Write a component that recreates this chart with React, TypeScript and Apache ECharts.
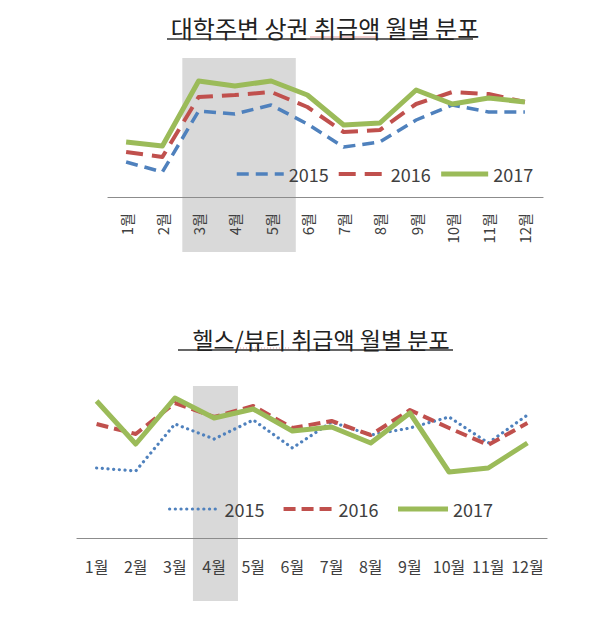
import React, { useEffect, useRef } from "react";
import * as echarts from "echarts";

const months = ["1월", "2월", "3월", "4월", "5월", "6월", "7월", "8월", "9월", "10월", "11월", "12월"];
const years = ["2015", "2016", "2017"];

// 대학주변 상권 취급액 (상대 지수)
const campus2015 = [35, 25, 86, 83, 92, 73, 50, 55, 77, 92, 85, 85];
const campus2016 = [45, 40, 100, 102, 105, 90, 65, 67, 93, 105, 103, 95];
const campus2017 = [55, 51, 116, 111, 116, 102, 72, 74, 107, 93, 99, 95];

// 헬스/뷰티 취급액 (상대 지수)
const beauty2015 = [70, 67, 114, 99, 118, 90, 116, 103, 110, 121, 95, 123];
const beauty2016 = [114, 104, 135, 121, 132, 110, 117, 103, 128, 110, 93, 115];
const beauty2017 = [137, 94, 140, 120, 129, 107, 111, 95, 125, 66, 70, 95];

// highlighted month ranges (category indices)
const campusHighlight = [2, 4];
const beautyHighlight = [3, 3];

const titles = ["대학주변 상권 취급액 월별 분포", "헬스/뷰티 취급액 월별 분포"];

const FONT = "'Noto Sans CJK KR', 'Noto Sans', sans-serif";
const BLUE = "#4F81BD";
const RED = "#C0504D";
const GREEN = "#9BBB59";
const TEXT = "#404040";

function bandSeries(gridIdx: number, range: number[], leftF: number, rightF: number, topPad: number, extra: number) {
  return {
    type: "custom",
    xAxisIndex: gridIdx,
    yAxisIndex: gridIdx,
    clip: false,
    silent: true,
    z: 1,
    encode: { x: [0, 1], y: 2 },
    data: [[range[0], range[1], 0]],
    renderItem: (params: any, api: any) => {
      const s = api.coord([api.value(0), 0]);
      const e = api.coord([api.value(1), 0]);
      const w = api.size([1, 0])[0];
      const cs = params.coordSys;
      return {
        type: "rect",
        shape: {
          x: s[0] - w * leftF,
          y: cs.y + topPad,
          width: e[0] - s[0] + w * (leftF + rightF),
          height: cs.height - topPad + extra,
        },
        style: { fill: "#d9d9d9" },
      };
    },
  };
}

function lineSeries(name: string, data: number[], gridIdx: number, color: string, width: number, type: any, cap: string) {
  return {
    name,
    type: "line",
    xAxisIndex: gridIdx,
    yAxisIndex: gridIdx,
    data,
    symbol: "none",
    z: 3,
    lineStyle: { color, width, type, cap, join: "round" },
    itemStyle: { color },
  };
}

export default function App() {
  const ref = useRef<HTMLDivElement>(null);
  useEffect(() => {
    if (!ref.current) return;
    const chart = echarts.init(ref.current, null, { renderer: "svg" });
    const xAxisCommon = {
      type: "category",
      data: months,
      boundaryGap: true,
      axisTick: { show: false },
      axisLine: { show: true, lineStyle: { color: "#8c8c8c", width: 1.2 } },
      z: 2,
    };
    const legendCommon = {
      formatter: (n: string) => n.split("_")[1],
      itemHeight: 20,
      padding: 0,
      lineStyle: { width: "inherit" },
      itemStyle: { opacity: 0, borderWidth: 0 },
      textStyle: { fontFamily: FONT, fontSize: 18, color: TEXT },
    };
    chart.setOption({
      animation: false,
      backgroundColor: "#ffffff",
      title: [
        {
          text: titles[0],
          left: 320,
          top: 10,
          textAlign: "center",
          textStyle: { fontFamily: FONT, fontSize: 24, fontWeight: "normal", color: "#222" },
        },
        {
          text: titles[1],
          left: 316,
          top: 322,
          textAlign: "center",
          textStyle: { fontFamily: FONT, fontSize: 23, fontWeight: "normal", color: "#222" },
        },
      ],
      graphic: [
        { type: "line", shape: { x1: 167, y1: 39, x2: 473, y2: 39 }, style: { stroke: "#333", lineWidth: 1.3 } },
        { type: "line", shape: { x1: 310, y1: 37, x2: 377, y2: 37 }, style: { stroke: "#d77", lineWidth: 1, opacity: 0.7 } },
        { type: "line", shape: { x1: 178, y1: 350, x2: 453, y2: 350 }, style: { stroke: "#333", lineWidth: 1.3 } },
        { type: "line", shape: { x1: 237, y1: 348, x2: 290, y2: 348 }, style: { stroke: "#d77", lineWidth: 1, opacity: 0.7, lineDash: [1, 2] } },
      ],
      legend: [
        {
          ...legendCommon,
          data: years.map((y) => "campus_" + y),
          left: 235,
          top: 165,
          itemWidth: 47,
          itemGap: 8,
        },
        {
          ...legendCommon,
          data: years.map((y) => "beauty_" + y),
          left: 168,
          top: 500,
          itemWidth: 50,
          itemGap: 17,
        },
      ],
      grid: [
        { left: 108, width: 435, top: 57, height: 140 },
        { left: 77, width: 470, top: 380, height: 158 },
      ],
      xAxis: [
        {
          ...xAxisCommon,
          gridIndex: 0,
          axisLabel: { rotate: 90, margin: 16, fontFamily: FONT, fontSize: 15, color: TEXT, interval: 0 },
        },
        {
          ...xAxisCommon,
          gridIndex: 1,
          axisLabel: { margin: 20, fontFamily: FONT, fontSize: 16, color: TEXT, interval: 0 },
        },
      ],
      yAxis: [
        { type: "value", gridIndex: 0, min: 0, max: 140, show: false, splitLine: { show: false } },
        { type: "value", gridIndex: 1, min: 0, max: 158, show: false, splitLine: { show: false } },
      ],
      series: [
        bandSeries(0, campusHighlight, 0.45, 0.68, 1, 55),
        bandSeries(1, beautyHighlight, 0.54, 0.61, 6, 63),
        lineSeries("campus_2015", campus2015, 0, BLUE, 3.5, [12, 7], "butt"),
        lineSeries("campus_2016", campus2016, 0, RED, 4, [17, 9], "butt"),
        lineSeries("campus_2017", campus2017, 0, GREEN, 5, "solid", "butt"),
        lineSeries("beauty_2015", beauty2015, 1, BLUE, 3.2, [0.1, 5.6], "round"),
        lineSeries("beauty_2016", beauty2016, 1, RED, 4, [12, 6], "butt"),
        lineSeries("beauty_2017", beauty2017, 1, GREEN, 5, "solid", "butt"),
      ],
    });
    return () => chart.dispose();
  }, []);
  return <div ref={ref} style={{ position: "absolute", left: 0, top: 0, width: 610, height: 625 }} />;
}
